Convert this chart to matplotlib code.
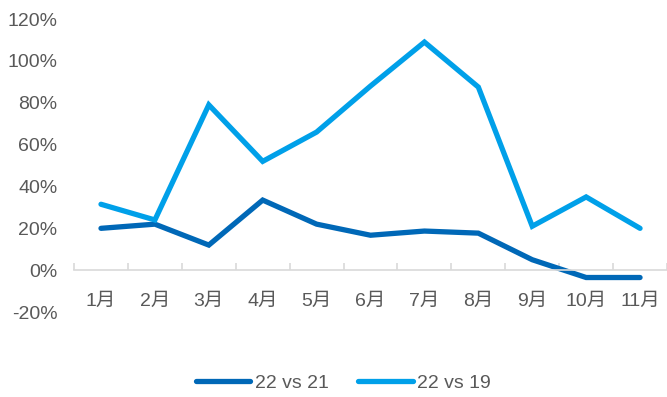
import matplotlib.pyplot as plt
from matplotlib.ticker import FixedLocator, FuncFormatter

plt.rcParams['font.family'] = ['Liberation Sans', 'Noto Sans CJK SC', 'DejaVu Sans']

months = ['1月', '2月', '3月', '4月', '5月', '6月', '7月', '8月', '9月', '10月', '11月']
vs21 = [0.20, 0.22, 0.12, 0.335, 0.22, 0.167, 0.187, 0.177, 0.05, -0.035, -0.035]
vs19 = [0.315, 0.24, 0.79, 0.52, 0.66, 0.88, 1.09, 0.875, 0.21, 0.35, 0.20]

dark = '#0068b7'
light = '#00a0e9'
grey = '#595959'

fig = plt.figure(figsize=(6.67, 3.97), dpi=100)
ax = fig.add_axes([0.111, 0.214, 0.889, 0.738])

x = range(len(months))
ax.plot(x, vs21, color=dark, lw=3.8, solid_capstyle='round', solid_joinstyle='miter', label='22 vs 21')
ax.plot(x, vs19, color=light, lw=3.8, solid_capstyle='round', solid_joinstyle='miter', label='22 vs 19')

ax.set_xlim(-0.5, 10.5)
ax.set_ylim(-0.2, 1.2)
ax.set_yticks([i / 10 for i in range(-2, 13, 2)])
ax.yaxis.set_major_formatter(FuncFormatter(lambda v, p: f'{v * 100:.0f}%'))

ax.set_xticks(list(x))
ax.set_xticklabels(months)
ax.xaxis.set_minor_locator(FixedLocator([i - 0.5 for i in range(12)]))

for s in ['top', 'right', 'left']:
    ax.spines[s].set_visible(False)
ax.spines['bottom'].set_position(('data', 0))
ax.spines['bottom'].set_color('#d9d9d9')
ax.spines['bottom'].set_linewidth(1.2)

ax.tick_params(axis='y', length=0, pad=12, labelsize=14, labelcolor=grey)
ax.tick_params(axis='x', which='major', length=0, pad=16, labelsize=14, labelcolor=grey)
ax.tick_params(axis='x', which='minor', direction='in', length=5, width=1.2, color='#d9d9d9')

fig.legend(loc='center', bbox_to_anchor=(0.515, 0.035), ncol=2, frameon=False,
           fontsize=14, handlelength=2.8, handletextpad=0.25, columnspacing=1.5,
           labelcolor=grey)

fig.savefig('out.png', dpi=100)
